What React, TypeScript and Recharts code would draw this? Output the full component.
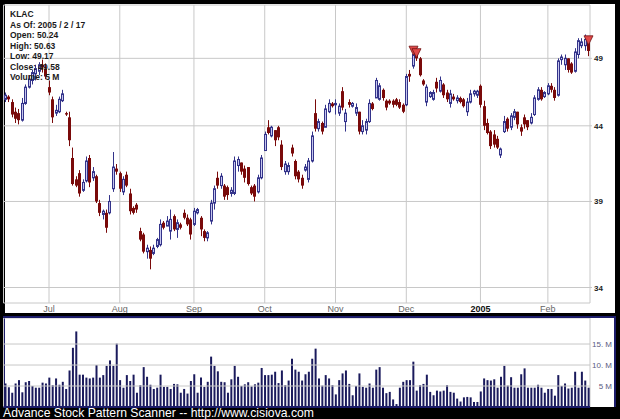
import { ComposedChart, Bar, XAxis, YAxis, CartesianGrid, ReferenceLine } from 'recharts';

// daily prices, mid June 2004 .. 2005/2/17
const openP = [
  45.9, 46.1, 45.7, 45.0, 44.9, 44.4, 45.6, 46.8, 47.3, 47.8,
  48.0, 48.5, 48.2, 46.8, 45.9, 44.9, 45.0, 45.8, 44.9, 44.6,
  41.8, 40.4, 40.8, 39.7, 40.3, 41.8, 40.5, 40.6, 38.9, 38.2,
  38.3, 38.3, 39.8, 41.1, 40.8, 39.6, 40.7, 39.5, 38.6, 38.8,
  37.2, 37.0, 36.0, 36.1, 35.9, 36.3, 36.4, 37.7, 37.5, 37.2,
  38.1, 37.3, 37.6, 38.3, 38.0, 37.9, 37.6, 38.3, 38.0, 37.2,
  36.8, 37.8, 38.9, 40.5, 40.0, 40.0, 39.9, 39.5, 39.5, 41.3,
  41.5, 41.1, 41.2, 39.9, 40.0, 39.6, 40.5, 42.3, 43.9, 43.3,
  43.7, 43.9, 42.7, 40.9, 40.9, 42.5, 41.6, 40.9, 40.5, 41.0,
  40.4, 41.6, 44.9, 43.8, 44.2, 43.9, 45.0, 45.6, 45.5, 44.9,
  46.5, 44.3, 45.7, 45.4, 44.9, 45.0, 43.6, 43.7, 44.3, 45.6,
  46.0, 45.9, 46.6, 45.8, 45.8, 45.8, 45.9, 45.7, 45.5, 45.5,
  47.8, 48.4, 49.3, 49.0, 47.3, 45.7, 46.1, 45.9, 47.2, 46.5,
  47.0, 46.4, 45.6, 46.1, 45.8, 46.0, 45.9, 45.0, 45.7, 46.3,
  46.2, 46.9, 45.4, 44.2, 43.6, 43.4, 43.1, 42.0, 43.6, 44.5,
  43.9, 44.6, 45.0, 43.9, 44.6, 44.4, 44.2, 44.8, 45.9, 46.6,
  46.1, 46.3, 46.9, 46.6, 46.2, 48.9, 48.5, 49.0, 48.6, 48.0,
  49.3, 50.0, 50.0, 50.24,
];
const highP = [
  46.4, 46.2, 45.9, 45.3, 45.2, 46.0, 47.0, 47.7, 48.1, 48.5,
  48.7, 48.9, 48.6, 47.3, 46.1, 45.5, 46.1, 46.6, 45.0, 45.0,
  42.5, 40.6, 41.0, 40.4, 41.9, 42.0, 41.2, 40.7, 39.1, 38.5,
  38.5, 39.4, 42.2, 41.4, 40.9, 40.6, 40.9, 39.8, 38.7, 38.9,
  37.4, 37.1, 36.4, 36.3, 36.4, 36.8, 37.9, 37.8, 38.1, 38.5,
  38.2, 37.9, 37.7, 38.5, 38.2, 38.0, 38.6, 38.6, 38.1, 37.3,
  37.2, 39.1, 40.0, 40.9, 40.8, 40.1, 40.0, 39.9, 41.9, 41.9,
  41.5, 41.3, 41.2, 40.0, 40.1, 40.7, 42.0, 43.6, 44.4, 44.0,
  43.7, 44.0, 43.0, 41.6, 41.5, 42.7, 41.7, 41.0, 40.7, 41.4,
  41.8, 43.6, 45.9, 44.5, 44.3, 45.5, 45.9, 45.7, 45.9, 45.6,
  46.8, 45.2, 45.9, 45.7, 45.6, 45.0, 44.4, 44.5, 45.9, 45.7,
  47.5, 47.1, 46.7, 45.9, 45.9, 45.9, 46.0, 45.9, 45.6, 47.8,
  48.1, 49.8, 49.6, 49.1, 47.4, 47.0, 46.5, 46.6, 47.5, 47.6,
  47.1, 46.6, 46.6, 46.3, 46.2, 46.1, 46.0, 46.0, 46.6, 46.6,
  46.6, 47.0, 45.8, 44.5, 43.7, 43.7, 43.3, 42.5, 44.7, 44.6,
  44.9, 45.2, 45.0, 44.1, 44.8, 44.4, 44.9, 46.2, 46.8, 46.8,
  46.5, 47.1, 47.1, 46.8, 49.0, 49.3, 49.3, 49.0, 48.7, 49.8,
  50.6, 50.6, 50.9, 50.63,
];
const lowP = [
  45.7, 45.7, 44.6, 44.2, 44.1, 44.3, 45.5, 46.7, 47.0, 47.3,
  47.7, 47.9, 47.4, 46.2, 44.2, 44.7, 44.9, 45.7, 44.7, 42.6,
  40.0, 39.9, 39.3, 39.6, 40.2, 39.9, 40.3, 38.9, 38.1, 37.9,
  37.1, 38.2, 39.6, 40.7, 39.6, 39.4, 39.9, 38.2, 38.2, 38.3,
  36.6, 35.9, 35.6, 35.0, 35.8, 36.2, 36.3, 37.3, 37.5, 36.7,
  37.2, 36.8, 37.3, 37.9, 37.5, 36.7, 37.5, 38.2, 36.9, 36.6,
  36.6, 37.6, 38.5, 39.8, 39.8, 39.1, 39.1, 39.3, 39.4, 40.9,
  40.7, 40.2, 40.0, 39.4, 39.0, 39.5, 40.4, 42.3, 43.4, 43.2,
  42.6, 43.0, 41.0, 40.7, 40.7, 41.9, 40.4, 40.2, 39.8, 40.9,
  40.2, 41.5, 43.6, 43.6, 43.4, 43.9, 44.9, 45.3, 44.8, 44.7,
  45.1, 43.6, 45.3, 45.3, 44.7, 43.4, 43.4, 43.4, 44.2, 45.1,
  46.0, 45.8, 45.8, 45.1, 45.5, 45.3, 45.4, 45.2, 44.9, 45.4,
  47.2, 48.2, 48.8, 47.6, 46.9, 45.4, 46.0, 45.8, 46.4, 46.4,
  46.0, 45.7, 45.3, 45.8, 45.6, 45.6, 45.3, 44.7, 45.6, 46.1,
  46.0, 45.3, 43.7, 43.4, 42.4, 42.5, 42.4, 41.8, 43.5, 43.6,
  43.7, 44.4, 43.8, 43.3, 43.8, 43.7, 44.1, 44.7, 45.8, 45.8,
  46.0, 46.2, 46.4, 45.8, 46.1, 48.5, 48.1, 47.9, 47.8, 47.9,
  49.0, 49.8, 49.6, 49.17,
];
const closeP = [
  46.2, 45.9, 44.8, 44.5, 44.4, 45.6, 46.8, 47.4, 47.9, 48.2,
  48.5, 48.3, 47.6, 46.4, 44.6, 45.1, 45.9, 46.3, 44.8, 43.0,
  40.1, 40.0, 39.5, 40.2, 41.6, 40.2, 40.9, 39.0, 38.3, 38.4,
  37.4, 39.0, 41.2, 40.9, 39.8, 40.4, 40.0, 38.4, 38.3, 38.5,
  36.7, 36.0, 36.2, 35.6, 36.2, 36.7, 37.6, 37.4, 37.8, 37.9,
  37.3, 37.7, 37.4, 38.0, 37.6, 37.0, 38.4, 38.5, 37.3, 36.8,
  37.1, 38.9, 39.8, 40.0, 40.6, 39.3, 39.4, 39.7, 41.6, 41.7,
  40.9, 40.5, 40.1, 39.5, 39.3, 40.5, 41.8, 43.4, 43.5, 43.9,
  43.0, 43.2, 41.2, 41.4, 41.3, 42.1, 40.6, 40.4, 40.0, 41.2,
  41.6, 43.3, 43.8, 44.3, 43.6, 45.2, 45.6, 45.4, 45.6, 45.4,
  45.3, 44.9, 45.5, 45.6, 45.3, 43.6, 44.0, 44.3, 45.6, 45.2,
  47.3, 46.9, 46.0, 45.3, 45.6, 45.5, 45.5, 45.3, 45.0, 47.6,
  47.6, 49.3, 49.0, 47.7, 47.0, 46.8, 46.4, 46.4, 46.7, 47.3,
  46.2, 45.9, 46.3, 45.9, 46.0, 45.7, 45.4, 45.7, 46.3, 46.5,
  46.5, 45.5, 44.0, 43.5, 42.6, 42.7, 42.5, 42.4, 44.3, 43.8,
  44.7, 45.0, 44.1, 43.6, 44.1, 43.9, 44.6, 46.0, 46.6, 45.9,
  46.4, 46.9, 46.6, 46.0, 48.8, 49.1, 49.0, 48.1, 47.9, 49.5,
  50.4, 50.3, 50.5, 49.58,
];
// volume in millions
const volumeM = [
  5.6, 4.7, 3.4, 5.6, 6.4, 3.5, 5.9, 6.2, 5.0, 4.6,
  4.6, 5.8, 5.6, 7.0, 5.2, 6.8, 5.3, 6.0, 4.3, 8.7,
  14.1, 18.0, 7.7, 7.7, 7.0, 6.8, 7.0, 10.0, 7.0, 7.6,
  9.8, 11.1, 9.8, 15.1, 6.4, 4.6, 7.6, 6.2, 7.7, 3.4,
  5.2, 9.5, 7.2, 5.3, 4.3, 4.6, 7.7, 4.8, 4.8, 4.3,
  5.5, 5.4, 3.4, 4.3, 3.2, 6.2, 7.8, 3.4, 7.0, 4.8,
  6.0, 12.0, 9.8, 8.5, 6.0, 5.9, 3.4, 6.6, 9.8, 7.2,
  5.0, 5.4, 5.9, 4.9, 5.4, 5.8, 9.3, 7.6, 7.6, 7.7,
  8.4, 5.7, 8.7, 5.2, 6.3, 11.5, 8.9, 8.4, 6.3, 7.8,
  8.4, 11.5, 13.9, 6.8, 5.1, 7.6, 6.8, 5.2, 3.0, 6.4,
  8.0, 8.7, 5.5, 2.8, 5.0, 8.0, 4.8, 4.6, 5.6, 4.6,
  8.9, 9.5, 4.6, 3.3, 3.6, 1.8, 0.7, 4.6, 6.0, 6.4,
  6.4, 10.8, 3.9, 5.2, 5.5, 7.7, 3.6, 2.8, 3.9, 3.7,
  3.9, 5.2, 3.6, 3.4, 2.0, 1.3, 2.3, 2.4, 2.3, 1.2,
  1.2, 3.7, 6.8, 6.4, 6.3, 6.6, 4.6, 7.2, 9.8, 5.1,
  7.1, 4.6, 4.6, 7.8, 9.2, 4.6, 4.6, 4.6, 5.3, 4.6,
  3.4, 4.3, 4.3, 2.7, 7.6, 5.0, 5.6, 4.4, 4.6, 8.4,
  4.6, 8.4, 6.3, 4.6,
];

const monthIdx = [13, 34, 56, 77, 98, 119, 141, 161];
const monthLabels = ['Jul', 'Aug', 'Sep', 'Oct', 'Nov', 'Dec', '2005', 'Feb'];
const priceTicks = [34, 39, 44, 49];
const volTicks = [5, 10, 15];
const volTickLabels = ['5 M', '10. M', '15. M'];
const signalIdx = [121, 122, 173];
const infoLines = ['KLAC', 'As Of: 2005 / 2 / 17', 'Open: 50.24', 'High: 50.63', 'Low: 49.17', 'Close: 49.58', 'Volume: 5 M'];

const rows = openP.map((o, i) => ({
  i,
  open: o,
  high: highP[i],
  low: lowP[i],
  close: closeP[i],
  range: [lowP[i], highP[i]],
  vol: volumeM[i],
  signal: signalIdx.includes(i),
}));

const FONT = '"Liberation Sans", Arial, sans-serif';
const GRID = '#c8c8c8';

const Candle = (props: any) => {
  const { x, y, width, height, payload } = props;
  if (x == null || y == null) return null;
  const { open, close, high, low, signal } = payload;
  const lh = Math.log(high);
  const ll = Math.log(low);
  const py = (v: number) => (lh === ll ? y : y + (height * (lh - Math.log(v))) / (lh - ll));
  const cx = Math.round(x + width / 2);
  const up = close >= open;
  const top = py(Math.max(open, close));
  const bot = py(Math.min(open, close));
  const bodyH = Math.max(1, bot - top);
  return (
    <g>
      <line x1={cx + 0.5} x2={cx + 0.5} y1={y} y2={y + height} stroke={up ? '#33338a' : '#7a0a0a'} strokeWidth={1} />
      {up ? (
        <rect x={cx - 0.5} y={top} width={2} height={bodyH} fill="#c6c6ee" stroke="#33338a" strokeWidth={1} />
      ) : (
        <rect x={cx - 1} y={top} width={3} height={bodyH} fill="#7a0a0a" />
      )}
      {signal && (
        <polygon
          points={`${cx - 4},${y - 2} ${cx + 5},${y - 2} ${cx + 0.5},${y + 7}`}
          fill="#e04848"
          stroke="#701010"
          strokeWidth={0.8}
        />
      )}
    </g>
  );
};

const MonthTick = (props: any) => {
  const { x, y, payload } = props;
  const k = monthIdx.indexOf(payload.value);
  const bold = monthLabels[k] === '2005';
  return (
    <text x={x} y={y + 9} textAnchor="middle" fontSize={9} fontFamily={FONT}
      fontWeight={bold ? 'bold' : 'normal'} fill={bold ? '#111' : '#666'}>
      {monthLabels[k]}
    </text>
  );
};

const PriceTick = (props: any) => {
  const { x, y, payload } = props;
  return (
    <text x={x} y={y + 3} textAnchor="start" fontSize={8} fontWeight="bold" fontFamily={FONT} fill="#222">
      {payload.value}
    </text>
  );
};

// volume level labels, drawn at the right end of each reference line
const volLabel = (text: string) => (p: any) => {
  const vb = p.viewBox || {};
  return (
    <text x={(vb.x || 0) + (vb.width || 0) + 22} y={(vb.y || 0) + 3} textAnchor="end"
      fontSize={8} fontFamily={FONT} fill="#5a5a80">
      {text}
    </text>
  );
};

export default function App() {
  return (
    <div style={{ position: 'absolute', left: 0, top: 0, width: 620, height: 419, background: '#000', overflow: 'hidden' }}>
      <div style={{ position: 'absolute', left: 5, top: 4, width: 610, height: 309, background: '#fff' }} />
      <div style={{ position: 'absolute', left: 3, top: 316, width: 613, height: 91, background: '#fff', boxSizing: 'border-box', borderTop: '2px solid #1c1c6a', borderLeft: '2px solid #1c1c6a', borderRight: '2px solid #1c1c6a' }} />

      <div style={{ position: 'absolute', left: 0, top: 0 }}>
        <ComposedChart width={620} height={313} data={rows} margin={{ top: 5, right: 0, bottom: 0, left: 3.5 }}>
          <CartesianGrid stroke={GRID} />
          <XAxis dataKey="i" type="category" ticks={monthIdx} interval={0} height={10}
            tick={MonthTick} tickLine={false} axisLine={false} tickSize={0} tickMargin={0} />
          <YAxis type="number" scale="log" domain={[33.17, 53.35]} allowDataOverflow ticks={priceTicks}
            interval={0} orientation="right" width={30} axisLine={false} tickLine={{ stroke: GRID }}
            tickSize={2} tickMargin={2} tick={PriceTick} />
          <Bar dataKey="range" shape={Candle} barSize={3} isAnimationActive={false} />
        </ComposedChart>
      </div>

      <div style={{ position: 'absolute', left: 0, top: 318 }}>
        <ComposedChart width={620} height={90} data={rows} margin={{ top: 0, right: 0, bottom: 0, left: 3.5 }}>
          <CartesianGrid stroke={GRID} />
          <XAxis dataKey="i" type="category" ticks={monthIdx} interval={0} height={1} tick={false}
            tickLine={false} axisLine={{ stroke: '#1c1c6a', strokeWidth: 2 }} />
          <YAxis type="number" domain={[0, 21.2]} ticks={volTicks} interval={0}
            orientation="right" width={30} axisLine={false} tickLine={false} tick={false} />
          {volTicks.map((v, k) => (
            <ReferenceLine key={v} y={v} stroke={GRID} label={volLabel(volTickLabels[k])} />
          ))}
          <Bar dataKey="vol" fill="#1a1a5c" barSize={2} isAnimationActive={false} />
        </ComposedChart>
      </div>

      <svg width={620} height={419} style={{ position: 'absolute', left: 0, top: 0, pointerEvents: 'none' }}>
        {infoLines.map((t, k) => (
          <text key={t} x={10} y={17 + k * 10.5} fontSize={8.5} fontWeight="bold" fontFamily={FONT} fill="#1a1a1a">
            {t}
          </text>
        ))}
        <text x={3} y={417} fontSize={12.2} fontFamily={FONT} fill="#fff">
          Advance Stock Pattern Scanner -- http://www.cisiova.com
        </text>
      </svg>
    </div>
  );
}
